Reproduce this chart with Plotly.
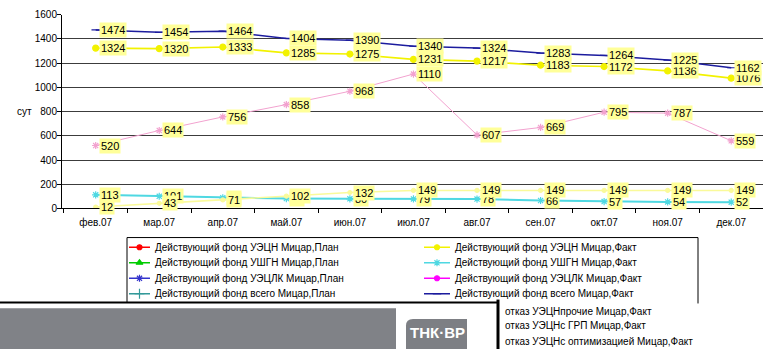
import plotly.graph_objects as go

W, H = 763, 355

# ---- data -------------------------------------------------------------
months = ["фев.07", "мар.07", "апр.07", "май.07", "июн.07", "июл.07",
          "авг.07", "сен.07", "окт.07", "ноя.07", "дек.07"]

fund_total_fact = [1474, 1454, 1464, 1404, 1390, 1340, 1324, 1283, 1264, 1225, 1162]
fund_esp_fact = [1324, 1320, 1333, 1285, 1275, 1231, 1217, 1183, 1172, 1136, 1076]
fund_srp_fact = [113, 101, 88, 82, 80, 79, 78, 66, 57, 54, 52]
fail_other_fact = [520, 644, 756, 858, 968, 1110, 607, 669, 795, 787, 559]
fail_frac_fact = [12, 43, 71, 102, 132, 149, 149, 149, 149, 149, 149]

y_ticks = [0, 200, 400, 600, 800, 1000, 1200, 1400, 1600]
y_title = "сут"

legend_plan = [
    "Действующий фонд УЭЦН Мицар,План",
    "Действующий фонд УШГН Мицар,План",
    "Действующий фонд УЭЦЛК Мицар,План",
    "Действующий фонд всего Мицар,План",
]
legend_fact = [
    "Действующий фонд УЭЦН Мицар,Факт",
    "Действующий фонд УШГН Мицар,Факт",
    "Действующий фонд УЭЦЛК Мицар,Факт",
    "Действующий фонд всего Мицар,Факт",
]
legend_fail = [
    "отказ УЭЦНпрочие Мицар,Факт",
    "отказ УЭЦНс ГРП Мицар,Факт",
    "отказ УЭЦНс оптимизацией Мицар,Факт",
]
logo_text = "ТНК·ВР"

# ---- styles -----------------------------------------------------------
FONT = "Liberation Sans, Arial, sans-serif"
LABEL_BG = "#FFFF99"

series = [
    # values, line colour, width, marker symbol, marker size
    (fund_esp_fact, "#F2F200", 1.6, "circle", 6),
    (fund_srp_fact, "#4FD8E2", 2.0, "asterisk-open", 6),
    (fund_total_fact, "#1C1C9E", 1.5, "line-ew-open", 6),
    (fail_other_fact, "#F2A2CF", 1.0, "asterisk-open", 6),
    (fail_frac_fact, "#FAFA9A", 1.6, "circle", 4),
]

plan_styles = [("#FF0000", "circle", 5), ("#00CC00", "triangle-up", 6),
               ("#3333CC", "asterisk-open", 6), ("#339999", "cross-thin-open", 7)]
fact_styles = [("#F2F200", "circle", 5), ("#4FD8E2", "asterisk-open", 6),
               ("#FF00FF", "circle", 5), ("#1C1C9E", "line-ew-open", 6)]

fig = go.Figure()

# ---- main chart ---------------------------------------------------------
for vals, col, lw, sym, ms in series:
    fig.add_trace(go.Scatter(
        x=months, y=vals, mode="lines+markers",
        line=dict(color=col, width=lw),
        marker=dict(symbol=sym, size=ms, color=col, line=dict(color=col, width=1.2)),
        xaxis="x", yaxis="y", showlegend=False, hoverinfo="skip",
    ))

annotations = []
for vals, col, lw, sym, ms in series:
    for m, v in zip(months, vals):
        annotations.append(dict(
            x=m, y=v, xref="x", yref="y", text=str(v), showarrow=False,
            xanchor="left", yanchor="middle", xshift=3,
            bgcolor=LABEL_BG, borderpad=1,
            font=dict(family=FONT, size=11, color="#000000"),
        ))

annotations.append(dict(
    x=24, y=110, xref="x2", yref="y2", text=y_title, showarrow=False,
    xanchor="center", yanchor="middle",
    font=dict(family=FONT, size=10, color="#000000"),
))

# ---- legend (drawn in pixel space on an overlay axis pair) -------------
ROW_Y = [250, 266, 282, 298]
FAIL_Y = [316, 331, 347]
COL1_X, COL2_X = (129, 150, 153), (424, 450, 453)
LEG_FONT = dict(family=FONT, size=10, color="#000000")


def legend_sample(x0, x1, y, col, sym, ms):
    fig.add_trace(go.Scatter(
        x=[x0, x1], y=[y, y], mode="lines", line=dict(color=col, width=1.5),
        xaxis="x2", yaxis="y2", showlegend=False, hoverinfo="skip"))
    fig.add_trace(go.Scatter(
        x=[(x0 + x1) / 2], y=[y], mode="markers",
        marker=dict(symbol=sym, size=ms, color=col, line=dict(color=col, width=1.2)),
        xaxis="x2", yaxis="y2", showlegend=False, hoverinfo="skip"))


for name, (col, sym, ms), y in zip(legend_plan, plan_styles, ROW_Y):
    legend_sample(COL1_X[0], COL1_X[1], y, col, sym, ms)
    annotations.append(dict(x=COL1_X[2], y=y, xref="x2", yref="y2", text=name,
                            showarrow=False, xanchor="left", yanchor="middle", font=LEG_FONT))
for name, (col, sym, ms), y in zip(legend_fact, fact_styles, ROW_Y):
    legend_sample(COL2_X[0], COL2_X[1], y, col, sym, ms)
    annotations.append(dict(x=COL2_X[2], y=y, xref="x2", yref="y2", text=name,
                            showarrow=False, xanchor="left", yanchor="middle", font=LEG_FONT))
for name, y in zip(legend_fail, FAIL_Y):
    annotations.append(dict(x=503, y=y, xref="x2", yref="y2", text=name,
                            showarrow=False, xanchor="left", yanchor="middle", font=LEG_FONT))

annotations.append(dict(x=437, y=338, xref="x2", yref="y2", text="<b>" + logo_text + "</b>",
                        showarrow=False, xanchor="center", yanchor="middle",
                        font=dict(family=FONT, size=15, color="#FFFFFF")))

shapes = [
    # legend frame
    dict(type="line", xref="x2", yref="y2", x0=127, x1=698, y0=240, y1=240,
         line=dict(color="#000000", width=1)),
    dict(type="line", xref="x2", yref="y2", x0=127, x1=127, y0=240, y1=307,
         line=dict(color="#000000", width=1)),
    dict(type="line", xref="x2", yref="y2", x0=698, x1=698, y0=240, y1=308,
         line=dict(color="#000000", width=1)),
    # footer band
    dict(type="rect", xref="x2", yref="y2", x0=0, x1=497, y0=307, y1=356,
         fillcolor="#FFFFFF", line=dict(width=0), layer="above"),
    dict(type="rect", xref="x2", yref="y2", x0=0, x1=396, y0=313, y1=356,
         fillcolor="#808287", line=dict(width=0), layer="above"),
    dict(type="path", xref="x2", yref="y2",
         path="M 406 356 L 406 331 Q 406 324 413 324 L 467 324 L 467 356 Z",
         fillcolor="#7D7F84", line=dict(width=0), layer="above"),
    dict(type="line", xref="x2", yref="y2", x0=0, x1=498, y0=307, y1=307,
         line=dict(color="#000000", width=2), layer="above"),
    dict(type="line", xref="x2", yref="y2", x0=498, x1=498, y0=304, y1=356,
         line=dict(color="#000000", width=3), layer="above"),
]

fig.update_layout(
    width=W, height=H,
    margin=dict(l=0, r=0, t=0, b=0),
    paper_bgcolor="#FFFFFF", plot_bgcolor="rgba(0,0,0,0)",
    showlegend=False,
    xaxis=dict(
        type="category", domain=[62 / W, 1], range=[-0.53, 10.5],
        tickson="boundaries", ticks="outside", ticklen=4, tickcolor="#000000",
        showline=True, linecolor="#000000", linewidth=1,
        showgrid=False, zeroline=False, ticklabelstandoff=5,
        tickfont=dict(family=FONT, size=10, color="#000000"),
        anchor="y", fixedrange=True,
    ),
    yaxis=dict(
        domain=[1 - 210 / H, 1 - 10 / H], range=[0, 1600],
        tickvals=y_ticks, ticktext=[str(t) for t in y_ticks],
        ticks="outside", ticklen=4, tickcolor="#000000",
        showline=True, linecolor="#000000", linewidth=1,
        showgrid=True, gridcolor="#3c3c3c", gridwidth=1.3, zeroline=False,
        ticklabelstandoff=-2,
        tickfont=dict(family=FONT, size=10, color="#000000"),
        anchor="x", fixedrange=True,
    ),
    xaxis2=dict(domain=[0, 1], range=[0, W], visible=False, anchor="y2", fixedrange=True),
    yaxis2=dict(domain=[0, 1], range=[H, 0], visible=False, anchor="x2", fixedrange=True),
    annotations=annotations,
    shapes=shapes,
)

fig.write_html("out.html")
